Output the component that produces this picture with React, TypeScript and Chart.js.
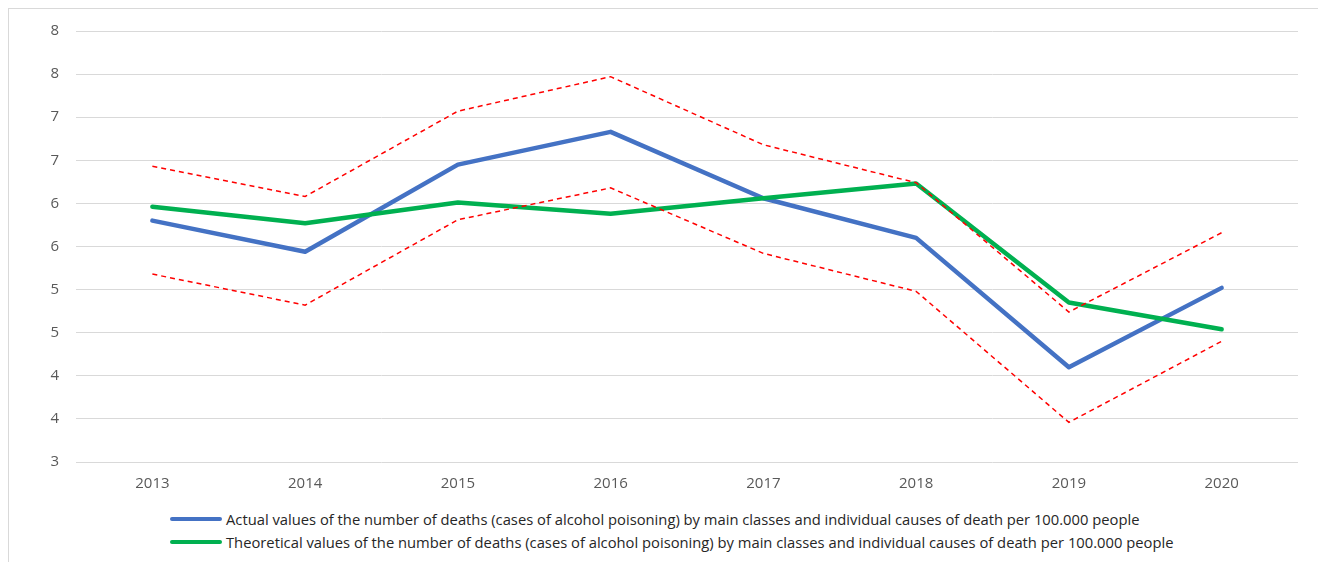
import React, { useEffect, useRef } from "react";
import { Chart, registerables } from "chart.js";

Chart.register(...registerables);

const years = ["2013", "2014", "2015", "2016", "2017", "2018", "2019", "2020"];
const actualValues = [5.8, 5.44, 6.45, 6.83, 6.06, 5.6, 4.1, 5.02];
const theoreticalValues = [5.96, 5.77, 6.01, 5.88, 6.06, 6.23, 4.85, 4.54];
const upperBound = [6.43, 6.08, 7.07, 7.47, 6.68, 6.24, 4.74, 5.66];
const lowerBound = [5.18, 4.82, 5.81, 6.18, 5.42, 4.98, 3.46, 4.4];

const actualLabel =
  "Actual values of the number of deaths (cases of alcohol poisoning) by main classes and individual causes of death per 100.000 people";
const theoreticalLabel =
  "Theoretical values of the number of deaths (cases of alcohol poisoning) by main classes and individual causes of death per 100.000 people";

const BLUE = "#4472C4";
const GREEN = "#00B050";
const RED = "#FF0000";
const FONT = "Open Sans, Liberation Sans, sans-serif";

export default function App() {
  const canvasRef = useRef<HTMLCanvasElement | null>(null);

  useEffect(() => {
    if (!canvasRef.current) return;
    const chart = new Chart(canvasRef.current, {
      type: "line",
      data: {
        labels: years,
        datasets: [
          {
            label: "upper",
            data: upperBound,
            borderColor: RED,
            borderWidth: 1.5,
            borderDash: [5, 4],
            pointRadius: 0,
            tension: 0,
          },
          {
            label: "lower",
            data: lowerBound,
            borderColor: RED,
            borderWidth: 1.5,
            borderDash: [5, 4],
            pointRadius: 0,
            tension: 0,
          },
          {
            label: theoreticalLabel,
            data: theoreticalValues,
            borderColor: GREEN,
            borderWidth: 4.5,
            pointRadius: 0,
            tension: 0,
            borderCapStyle: "round",
            borderJoinStyle: "round",
          },
          {
            label: actualLabel,
            data: actualValues,
            borderColor: BLUE,
            borderWidth: 4.5,
            pointRadius: 0,
            tension: 0,
            borderCapStyle: "round",
            borderJoinStyle: "round",
          },
        ],
      },
      options: {
        animation: false,
        responsive: false,
        maintainAspectRatio: false,
        layout: { padding: { top: 10, right: 16, bottom: 0, left: 0 } },
        plugins: {
          legend: { display: false },
          tooltip: { enabled: false },
        },
        scales: {
          x: {
            offset: true,
            grid: { display: false },
            border: { display: false },
            ticks: {
              color: "#595959",
              font: { family: FONT, size: 15 },
              padding: 5,
              maxRotation: 0,
            },
            afterFit: (scale: any) => {
              scale.height = 37;
            },
          },
          y: {
            min: 3,
            max: 8,
            grid: { color: "#d9d9d9", lineWidth: 1, drawTicks: false },
            border: { display: false },
            ticks: {
              stepSize: 0.5,
              color: "#595959",
              font: { family: FONT, size: 15 },
              padding: 17,
              callback: (v: any) => String(Math.round(Number(v))),
            },
            afterFit: (scale: any) => {
              scale.width = 67;
            },
          },
        },
      },
    });
    return () => chart.destroy();
  }, []);

  const legendRow = (color: string, text: string, top: number) => (
    <div
      style={{
        position: "absolute",
        left: 161,
        top,
        display: "flex",
        alignItems: "center",
        height: 20,
      }}
    >
      <div
        style={{
          width: 52,
          height: 4,
          borderRadius: 2,
          background: color,
          marginRight: 4,
        }}
      />
      <span
        style={{
          fontFamily: FONT,
          fontSize: 14.75,
          color: "#262626",
          whiteSpace: "nowrap",
        }}
      >
        {text}
      </span>
    </div>
  );

  return (
    <div
      style={{
        position: "relative",
        width: 1315,
        height: 560,
        boxSizing: "border-box",
        border: "1px solid #d9d9d9",
        borderBottom: "none",
        background: "#fff",
      }}
    >
      <canvas
        ref={canvasRef}
        width={1305}
        height={494}
        style={{ position: "absolute", left: 0, top: -4, width: 1305, height: 494 }}
      />
      {legendRow(BLUE, actualLabel, 500)}
      {legendRow(GREEN, theoreticalLabel, 523)}
    </div>
  );
}
